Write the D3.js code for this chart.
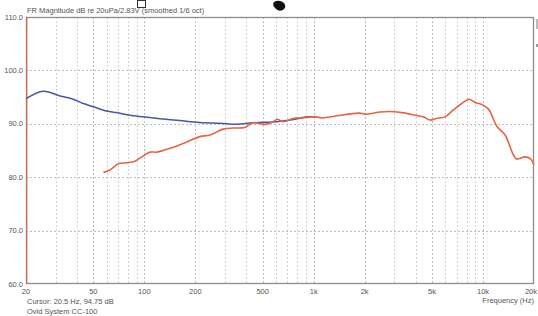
<!DOCTYPE html>
<html><head><meta charset="utf-8">
<script src="https://cdn.jsdelivr.net/npm/d3@7/dist/d3.min.js"></script>
<style>html,body{margin:0;padding:0;background:#fff;overflow:hidden}svg{display:block}text{font-family:"Liberation Sans",Arial,sans-serif}</style>
</head><body><svg id="c" width="538" height="316"></svg>
<script>
const title = "FR Magnitude dB re 20uPa/2.83V (smoothed 1/6 oct)";
const cursorText = "Cursor: 20.5 Hz, 94.75 dB";
const systemText = "Ovid System CC-100";
const xAxisTitle = "Frequency (Hz)";
const xTickValues = [20,50,100,200,500,1000,2000,5000,10000,20000];
const xTickLabels = ["20","50","100","200","500","1k","2k","5k","10k","20k"];
const yTickValues = [60,70,80,90,100,110];
const yTickLabels = ["60.0","70.0","80.0","90.0","100.0","110.0"];
const cursorFreq = 20.5;

const blueFreq = [20,25.3,31.8,38,43.6,50,58.6,68.7,80.4,98.6,124,162,212,280,350,440,600,760,914,1030];
const blueDb   = [94.7,96.1,95.2,94.6,93.8,93.2,92.45,92.1,91.65,91.3,90.96,90.6,90.25,90.1,89.9,90.2,90.4,90.8,91.3,91.3];

const redFreq = [57.3,62.7,70.2,79,88,98.6,108,118.5,142,178,212,244,292,334,391,440,516,578,610,660,760,914,1030,1130,1370,1850,2066,2470,2830,3480,4100,4440,4870,5300,5970,6680,7490,8300,8980,10000,10800,12100,13500,15100,15800,17700,19000,20000];
const redDb   = [80.9,81.35,82.5,82.7,83.0,84.0,84.7,84.7,85.4,86.6,87.6,87.9,89.0,89.2,89.3,90.2,89.9,90.4,90.85,90.4,91.0,91.2,91.3,91.1,91.5,92.0,91.8,92.2,92.3,92.0,91.5,91.3,90.7,91.0,91.3,92.6,93.8,94.6,94.0,93.5,92.7,89.5,87.9,84.2,83.4,83.8,83.5,82.3];

const svg = d3.select("#c");
const L = 26, R = 534, T = 17, B = 284;
const x = d3.scaleLog().domain([20,20000]).range([L,R]);
const y = d3.scaleLinear().domain([60,110]).range([B,T]);

// top decorations
svg.append("rect").attr("x",137.5).attr("y",0.5).attr("width",8).attr("height",7).attr("fill","none").attr("stroke","#333").attr("stroke-width",1);
svg.append("path").attr("d","M274,2 Q279,-1 284,3 Q287,7 283,10 Q278,12 275,8 Q272,5 274,2Z").attr("fill","#111");
svg.append("rect").attr("x",536).attr("y",19).attr("width",2).attr("height",10).attr("fill","#bbb");
svg.append("rect").attr("x",536).attr("y",44).attr("width",2).attr("height",3).attr("fill","#999");

// gridlines
const grid = svg.append("g");
grid.selectAll(".vg").data(x.ticks().filter(d => d > 20 && d < 20000)).join("line")
  .attr("x1",d=>Math.round(x(d))+0.5).attr("x2",d=>Math.round(x(d))+0.5)
  .attr("y1",T).attr("y2",B)
  .attr("stroke",d=>xTickValues.includes(d)?"#bcbcbc":"#d2d2d2").attr("stroke-width",1).attr("stroke-dasharray","2,2");
grid.selectAll(".hg").data(yTickValues.filter(d => d > 60 && d < 110)).join("line")
  .attr("x1",L).attr("x2",R)
  .attr("y1",d=>Math.round(y(d))+0.5).attr("y2",d=>Math.round(y(d))+0.5)
  .attr("stroke","#bdbdbd").attr("stroke-width",1).attr("stroke-dasharray","2,2");

// frame
svg.append("rect").attr("x",L+0.5).attr("y",T+0.5).attr("width",R-L-1).attr("height",B-T-1)
  .attr("fill","none").attr("stroke","#8c8c8c").attr("stroke-width",1.3);

// cursor line
svg.append("line").attr("x1",x(cursorFreq)-1).attr("x2",x(cursorFreq)-1).attr("y1",T).attr("y2",B)
  .attr("stroke","#e0603c").attr("stroke-width",1);

// curves
const ln = d3.line().x(d=>x(d[0])).y(d=>y(d[1])).curve(d3.curveCatmullRom.alpha(0.5));
svg.append("path").datum(blueFreq.map((f,i)=>[f,blueDb[i]])).attr("d",ln)
  .attr("fill","none").attr("stroke","#4b55a8").attr("stroke-width",1.5);
svg.append("path").datum(redFreq.map((f,i)=>[f,redDb[i]])).attr("d",ln)
  .attr("fill","none").attr("stroke","#e8633f").attr("stroke-width",1.6);

// axes labels
const fs = 7.5, col = "#555";
svg.append("g").selectAll("text").data(yTickValues).join("text")
  .attr("x",L-3).attr("y",d=>y(d)+2.5).attr("text-anchor","end")
  .attr("font-size",fs).attr("fill",col).text((d,i)=>yTickLabels[i]);
svg.append("g").selectAll("text").data(xTickValues).join("text")
  .attr("x",d=>d===20000 ? 537 : x(d)).attr("y",B+10)
  .attr("text-anchor",d=>d===20000 ? "end" : "middle")
  .attr("font-size",fs).attr("fill",col).text((d,i)=>xTickLabels[i]);

svg.append("text").attr("x",L+1).attr("y",13).attr("font-size",fs).attr("fill",col).text(title);
svg.append("text").attr("x",R).attr("y",B+19).attr("text-anchor","end").attr("font-size",fs).attr("fill",col).text(xAxisTitle);
svg.append("text").attr("x",L+1).attr("y",B+20).attr("font-size",fs).attr("fill",col).text(cursorText);
svg.append("text").attr("x",L+1).attr("y",B+30).attr("font-size",fs).attr("fill",col).text(systemText);
</script></body></html>
